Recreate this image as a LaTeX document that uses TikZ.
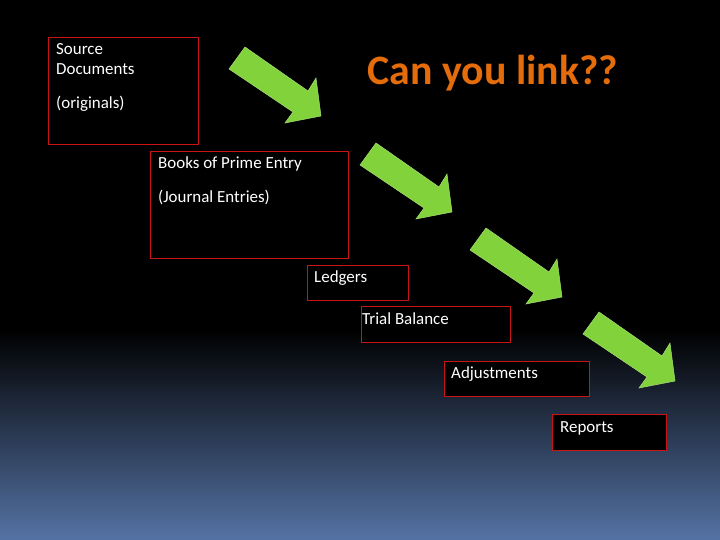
\documentclass[tikz,border=0pt]{standalone}
\usepackage{fontspec}
\setmainfont{Carlito}
\definecolor{bx}{RGB}{200,20,20}
\definecolor{gr}{RGB}{130,210,60}
\definecolor{org}{RGB}{228,108,10}
\definecolor{bot}{RGB}{85,115,165}
\begin{document}
\begin{tikzpicture}[x=1bp,y=-1bp,
  box/.style={draw=bx,line width=0.8bp,fill=black,inner sep=0pt},
  lbl/.style={text=white,anchor=north west,font=\fontsize{17}{19}\selectfont,align=left,inner sep=0pt},
  garrow/.pic={\fill[gr,draw=gr!70!white,line width=0.5bp] (0,0)--(16,-22)--(79,22)--(87,9)--(92,47)--(56,54)--(64,43)--cycle;}]
\useasboundingbox (0,0) rectangle (720,540);
\fill[black] (0,0) rectangle (720,540);
\shade[top color=black,bottom color=bot] (0,330) rectangle (720,540);
\node[box,minimum width=150bp,minimum height=107bp] (src) at (123,90.5) {};
\node[lbl] (srct) at (56,43) {Source\\[1bp]Documents};
\node[lbl] (srco) at (56,96) {(originals)};
\node[box,minimum width=198bp,minimum height=107bp] (bpe) at (249,204.5) {};
\node[lbl] (bpet) at (158,157) {Books of Prime Entry};
\node[lbl] (bpej) at (158,190) {(Journal Entries)};
\node[box,minimum width=101bp,minimum height=35bp] (led) at (357.5,282.5) {};
\node[lbl] (ledt) at (314,271) {Ledgers};
\node[box,minimum width=149bp,minimum height=36bp] (tb) at (435.5,324) {};
\node[lbl] (tbt) at (362,313) {Trial Balance};
\node[box,minimum width=145bp,minimum height=35bp] (adj) at (516.5,378.5) {};
\node[lbl] (adjt) at (451,367) {Adjustments};
\node[box,minimum width=114bp,minimum height=36bp] (rep) at (609,432) {};
\node[lbl] (rept) at (560,421) {Reports};
\node[text=org,font=\bfseries\fontsize{42}{46}\selectfont] (title) at (493,73) {Can you link??};
\pic at (229,69) {garrow};
\pic at (360,165) {garrow};
\pic at (470,250) {garrow};
\pic at (583,334) {garrow};
\end{tikzpicture}
\end{document}
